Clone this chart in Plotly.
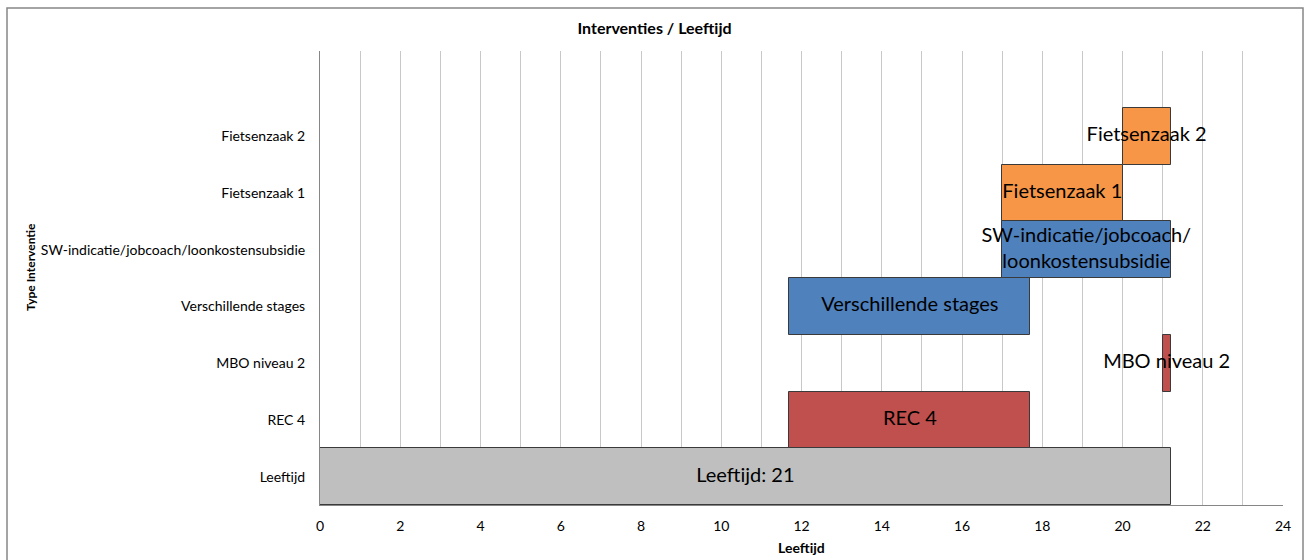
import plotly.graph_objects as go

# Interventions (bottom to top), start age and end age in years
categories = [
    "Leeftijd",
    "REC 4",
    "MBO niveau 2",
    "Verschillende stages",
    "SW-indicatie/jobcoach/loonkostensubsidie",
    "Fietsenzaak 1",
    "Fietsenzaak 2",
]
start_age = [0.0, 11.7, 21.0, 11.7, 17.0, 17.0, 20.0]
end_age = [21.2, 17.7, 21.2, 17.7, 21.2, 20.0, 21.2]
bar_labels = [
    "Leeftijd: {}".format(int(21.2)),
    "REC 4",
    "MBO niveau 2",
    "Verschillende stages",
    "SW-indicatie/jobcoach/<br>loonkostensubsidie",
    "Fietsenzaak 1",
    "Fietsenzaak 2",
]
bar_colors = ["#BFBFBF", "#C0504D", "#C0504D", "#4F81BD", "#4F81BD", "#F79646", "#F79646"]
x_ticks = list(range(0, 25, 2))

durations = [e - s for s, e in zip(start_age, end_age)]
mid_age = [(s + e) / 2 for s, e in zip(start_age, end_age)]

FONT = "Lato, Calibri, sans-serif"

fig = go.Figure()
fig.add_trace(go.Bar(
    y=categories,
    x=durations,
    base=start_age,
    orientation="h",
    width=1.0,
    marker=dict(color=bar_colors, line=dict(color="#3a3a3a", width=1)),
    hoverinfo="skip",
    showlegend=False,
))
fig.add_trace(go.Scatter(
    y=categories,
    x=mid_age,
    mode="text",
    text=bar_labels,
    textposition="middle center",
    textfont=dict(family=FONT, size=20, color="#000000"),
    cliponaxis=False,
    hoverinfo="skip",
    showlegend=False,
))

fig.update_layout(
    width=1309,
    height=560,
    margin=dict(l=320, r=26, t=51, b=55),
    paper_bgcolor="#FFFFFF",
    plot_bgcolor="#FFFFFF",
    font=dict(family=FONT, size=14, color="#000000"),
    title=dict(
        text="<b>Interventies / Leeftijd</b>",
        x=0.5, xref="container", xanchor="center",
        y=1 - 28 / 560, yref="container", yanchor="middle",
        font=dict(family=FONT, size=16, color="#000000"),
    ),
    bargap=0,
    barmode="overlay",
    xaxis=dict(
        range=[0, 24],
        tickvals=x_ticks,
        ticktext=[str(t) for t in x_ticks],
        showgrid=True,
        gridcolor="#C8C8C8",
        gridwidth=1,
        minor=dict(dtick=1, showgrid=True, gridcolor="#C8C8C8", gridwidth=1),
        showline=True,
        linecolor="#868686",
        linewidth=1,
        zeroline=False,
        ticks="",
        ticklabelstandoff=8,
        tickfont=dict(family=FONT, size=14),
        automargin=False,
    ),
    yaxis=dict(
        type="category",
        categoryorder="array",
        categoryarray=categories,
        range=[-0.5, 7.5],
        showgrid=False,
        showline=True,
        linecolor="#868686",
        linewidth=1,
        zeroline=False,
        ticks="",
        ticklabelstandoff=11,
        tickfont=dict(family=FONT, size=14),
        automargin=False,
    ),
)

# Axis titles, placed beside the tick labels
fig.add_annotation(
    text="<b>Type Interventie</b>",
    xref="paper", yref="paper",
    x=(30 - 320) / 963, y=(505 - 267) / 454,
    xanchor="center", yanchor="middle",
    textangle=-90, showarrow=False,
    font=dict(family=FONT, size=12, color="#000000"),
)
fig.add_annotation(
    text="<b>Leeftijd</b>",
    xref="paper", yref="paper",
    x=0.5, y=(505 - 547) / 454,
    xanchor="center", yanchor="middle",
    showarrow=False,
    font=dict(family=FONT, size=14, color="#000000"),
)

# Chart frame around the whole figure
fig.add_shape(
    type="rect", xref="paper", yref="paper",
    x0=(7 - 320) / 963, x1=(1303 - 320) / 963,
    y0=-0.2, y1=(505 - 8) / 454,
    line=dict(color="#868686", width=1.5),
    fillcolor="rgba(0,0,0,0)",
    layer="below",
)

fig.write_html("out.html")
